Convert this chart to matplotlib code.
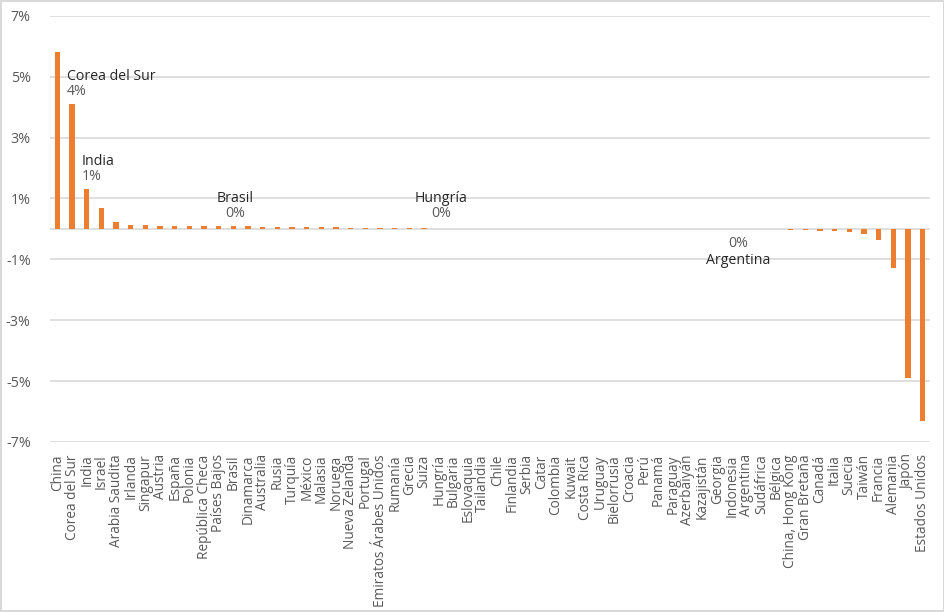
import numpy as np
import matplotlib
matplotlib.use("Agg")
from matplotlib import pyplot as plt

plt.rcParams['font.family'] = ['Open Sans', 'DejaVu Sans']

paises = ["China", "Corea del Sur", "India", "Israel", "Arabia Saudita", "Irlanda",
          "Singapur", "Austria", "España", "Polonia", "República Checa", "Países Bajos",
          "Brasil", "Dinamarca", "Australia", "Rusia", "Turquía", "México", "Malasia",
          "Noruega", "Nueva Zelanda", "Portugal", "Emiratos Árabes Unidos", "Rumanía",
          "Grecia", "Suiza", "Hungría", "Bulgaria", "Eslovaquia", "Tailandia", "Chile",
          "Finlandia", "Serbia", "Catar", "Colombia", "Kuwait", "Costa Rica", "Uruguay",
          "Bielorrusia", "Croacia", "Perú", "Panamá", "Paraguay", "Azerbaiyán",
          "Kazajistán", "Georgia", "Indonesia", "Argentina", "Sudáfrica", "Bélgica",
          "China, Hong Kong", "Gran Bretaña", "Canadá", "Italia", "Suecia", "Taiwán",
          "Francia", "Alemania", "Japón", "Estados Unidos"]

# variación en puntos porcentuales
valores = [5.80, 4.10, 1.31, 0.69, 0.23, 0.12,
           0.12, 0.11, 0.11, 0.10, 0.10, 0.08,
           0.08, 0.08, 0.06, 0.06, 0.06, 0.06, 0.05,
           0.05, 0.04, 0.04, 0.04, 0.03,
           0.03, 0.02, 0.01, 0.01, 0.01, 0.01, 0.01,
           0.01, 0.01, 0.01, 0.0, 0.0, 0.0, 0.0,
           0.0, 0.0, 0.0, 0.0, 0.0, 0.0,
           0.0, 0.0, 0.0, 0.0, 0.0, -0.02,
           -0.03, -0.05, -0.06, -0.08, -0.09, -0.16,
           -0.35, -1.30, -4.90, -6.32]

# etiquetas destacadas: (país, alineación)
destacados = [("Corea del Sur", "left"), ("India", "left"), ("Brasil", "center"),
              ("Hungría", "center"), ("Argentina", "center")]

naranja = "#ED7D31"
gris = "#595959"

fig = plt.figure(figsize=(9.45, 6.12), dpi=100)
fig.patch.set_edgecolor("#d9d9d9")
fig.patch.set_linewidth(1.5)
ax = fig.add_axes([0.053, 0.278, 0.931, 0.696])

x = np.arange(len(paises))
ax.bar(x, valores, width=0.36, color=naranja, zorder=3)

ax.set_xlim(-0.5, len(paises) - 0.5)
ax.set_ylim(-7, 7)
yt = np.arange(-7, 8, 2)
ax.set_yticks(yt)
ax.set_yticklabels([f"{v}%" for v in yt], color=gris, fontsize=10.3)
ax.set_xticks(x)
ax.set_xticklabels(paises, rotation=90, color=gris, fontsize=9.8, va="top", ha="center")
ax.tick_params(axis="y", length=0, pad=14)
ax.tick_params(axis="x", length=0, pad=9)

for v in yt:
    ax.axhline(v, color="#d9d9d9", lw=1.2, zorder=1)
ax.axhline(0, color="#d9d9d9", lw=1.2, zorder=2)
for s in ax.spines.values():
    s.set_visible(False)

fs = 10.2
for nombre, alin in destacados:
    i = paises.index(nombre)
    v = valores[i]
    pct = f"{v:.0f}%"
    if alin == "left":
        ax.text(i - 0.35, v + 0.66, nombre, ha="left", va="bottom", fontsize=fs, color="#262626")
        ax.text(i - 0.35, v + 0.16, pct, ha="left", va="bottom", fontsize=fs, color=gris)
    elif v >= 0 and nombre != "Argentina":
        ax.text(i + 0.15, 0.75, nombre, ha="center", va="bottom", fontsize=fs, color="#262626")
        ax.text(i + 0.15, 0.25, pct, ha="center", va="bottom", fontsize=fs, color=gris)
    else:
        ax.text(i - 0.55, -0.25, pct, ha="center", va="top", fontsize=fs, color=gris)
        ax.text(i - 0.55, -0.8, nombre, ha="center", va="top", fontsize=fs, color="#262626")

fig.savefig("out.png", dpi=100, edgecolor=fig.get_edgecolor())
